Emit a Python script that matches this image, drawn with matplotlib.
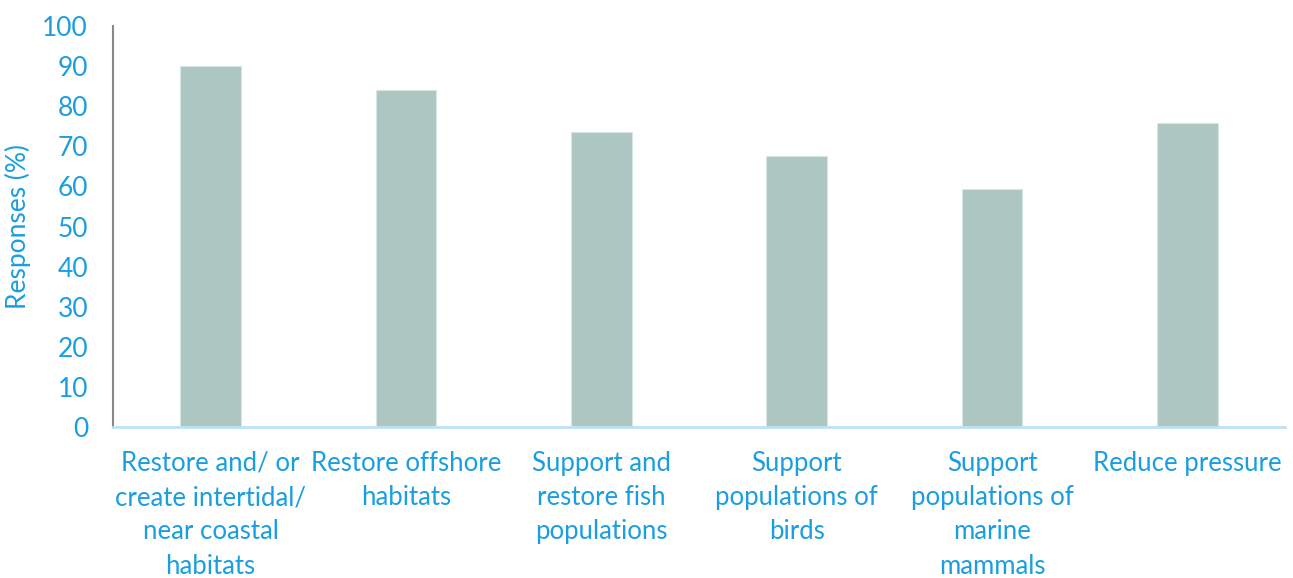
import matplotlib
matplotlib.use("Agg")
import matplotlib.pyplot as plt

categories = [
    "Restore and/ or\ncreate intertidal/\nnear coastal\nhabitats",
    "Restore offshore\nhabitats",
    "Support and\nrestore fish\npopulations",
    "Support\npopulations of\nbirds",
    "Support\npopulations of\nmarine\nmammals",
    "Reduce pressure",
]
responses = [90, 84, 73.5, 67.5, 59.3, 75.8]
yticks = list(range(0, 101, 10))

blue = "#1a9ee0"
bar_color = "#aec6c2"

plt.rcParams["font.family"] = ["Lato", "DejaVu Sans"]

fig = plt.figure(figsize=(12.93, 5.78), dpi=100)
ax = fig.add_axes([0.0874, 0.2612, 0.9064, 0.6938])

x = list(range(len(categories)))
ax.bar(x, responses, width=0.31, color=bar_color, edgecolor="#d6e6e3", linewidth=0.8, zorder=2)

ax.set_xlim(-0.5, len(categories) - 0.5)
ax.set_ylim(0, 100)
ax.set_yticks(yticks)
ax.set_xticks(x)
ax.set_xticklabels(categories, fontsize=18.5, color=blue, linespacing=1.47)
ax.tick_params(axis="y", length=0, pad=18, labelsize=19, labelcolor=blue)
ax.tick_params(axis="x", length=0, pad=17)

ax.set_ylabel("Responses (%)", fontsize=19, color=blue, labelpad=8)

for side in ["top", "right"]:
    ax.spines[side].set_visible(False)
ax.spines["left"].set_color("#888888")
ax.spines["left"].set_linewidth(1.5)
ax.spines["bottom"].set_color("#bde2f7")
ax.spines["bottom"].set_linewidth(2)

fig.savefig("out.png", dpi=100)
